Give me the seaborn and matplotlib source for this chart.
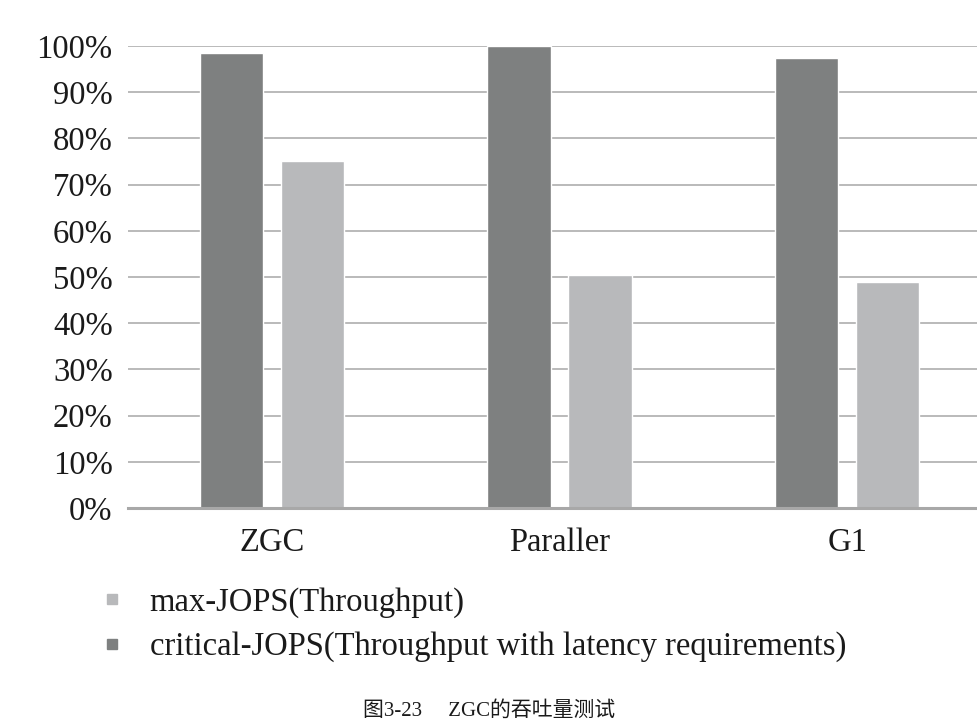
import pandas as pd
import matplotlib
matplotlib.use("Agg")
import matplotlib.pyplot as plt
import seaborn as sns
from matplotlib.lines import Line2D

# data
collectors = ["ZGC", "Paraller", "G1"]
critical_jops = [98.5, 100.0, 97.4]
max_jops = [75.1, 50.4, 48.9]
series_names = ["critical-JOPS(Throughput with latency requirements)", "max-JOPS(Throughput)"]
y_ticks = [0, 10, 20, 30, 40, 50, 60, 70, 80, 90, 100]

df = pd.DataFrame({
    "collector": collectors * 2,
    "series": [series_names[0]] * 3 + [series_names[1]] * 3,
    "value": critical_jops + max_jops,
})

sns.set_style("white")
plt.rcParams["font.family"] = ["Liberation Serif", "Noto Sans CJK SC"]

dark = "#7e8080"
light = "#b8b9bb"

fig = plt.figure(figsize=(9.77, 7.27), dpi=100)
ax = fig.add_axes([128 / 977, 1 - 508 / 727, (991 - 128) / 977, (508 - 46) / 727])

sns.barplot(data=df, x="collector", y="value", hue="series", order=collectors,
            hue_order=series_names, palette=[dark, light], width=0.5625, gap=0.22,
            saturation=1, ax=ax, legend=False, zorder=3)

ax.set_ylim(0, 100)
ax.set_xlim(-0.5, 2.5)
ax.set_yticks(y_ticks)
ax.set_yticklabels([f"{t}%" for t in y_ticks])
ax.set_xlabel("")
ax.set_ylabel("")
ax.yaxis.grid(True, color="#b4b4b4", linewidth=1.3, zorder=0)
ax.set_axisbelow(True)
for side in ["top", "right", "left"]:
    ax.spines[side].set_visible(False)
ax.spines["bottom"].set_color("#a8a8a8")
ax.spines["bottom"].set_linewidth(2.2)
ax.spines["bottom"].set_zorder(4)
ax.tick_params(axis="both", length=0, labelsize=23.5, colors="#1a1a1a")
ax.tick_params(axis="y", pad=11)
ax.tick_params(axis="x", pad=14)

handles = [Line2D([], [], marker="s", linestyle="", color=light, markersize=7.5),
           Line2D([], [], marker="s", linestyle="", color=dark, markersize=7.5)]
fig.legend(handles, [series_names[1], series_names[0]], loc="upper left",
           bbox_to_anchor=(86 / 977, 1 - 574 / 727), frameon=False, fontsize=23.5,
           handlelength=0.8, handletextpad=0.75, labelspacing=0.42, borderaxespad=0,
           labelcolor="#1a1a1a")

fig.text(489 / 977, 1 - 711 / 727, "图3-23\u3000 ZGC的吞吐量测试", ha="center", va="center",
         fontsize=15, color="#1a1a1a")

fig.savefig("out.png", dpi=100)
